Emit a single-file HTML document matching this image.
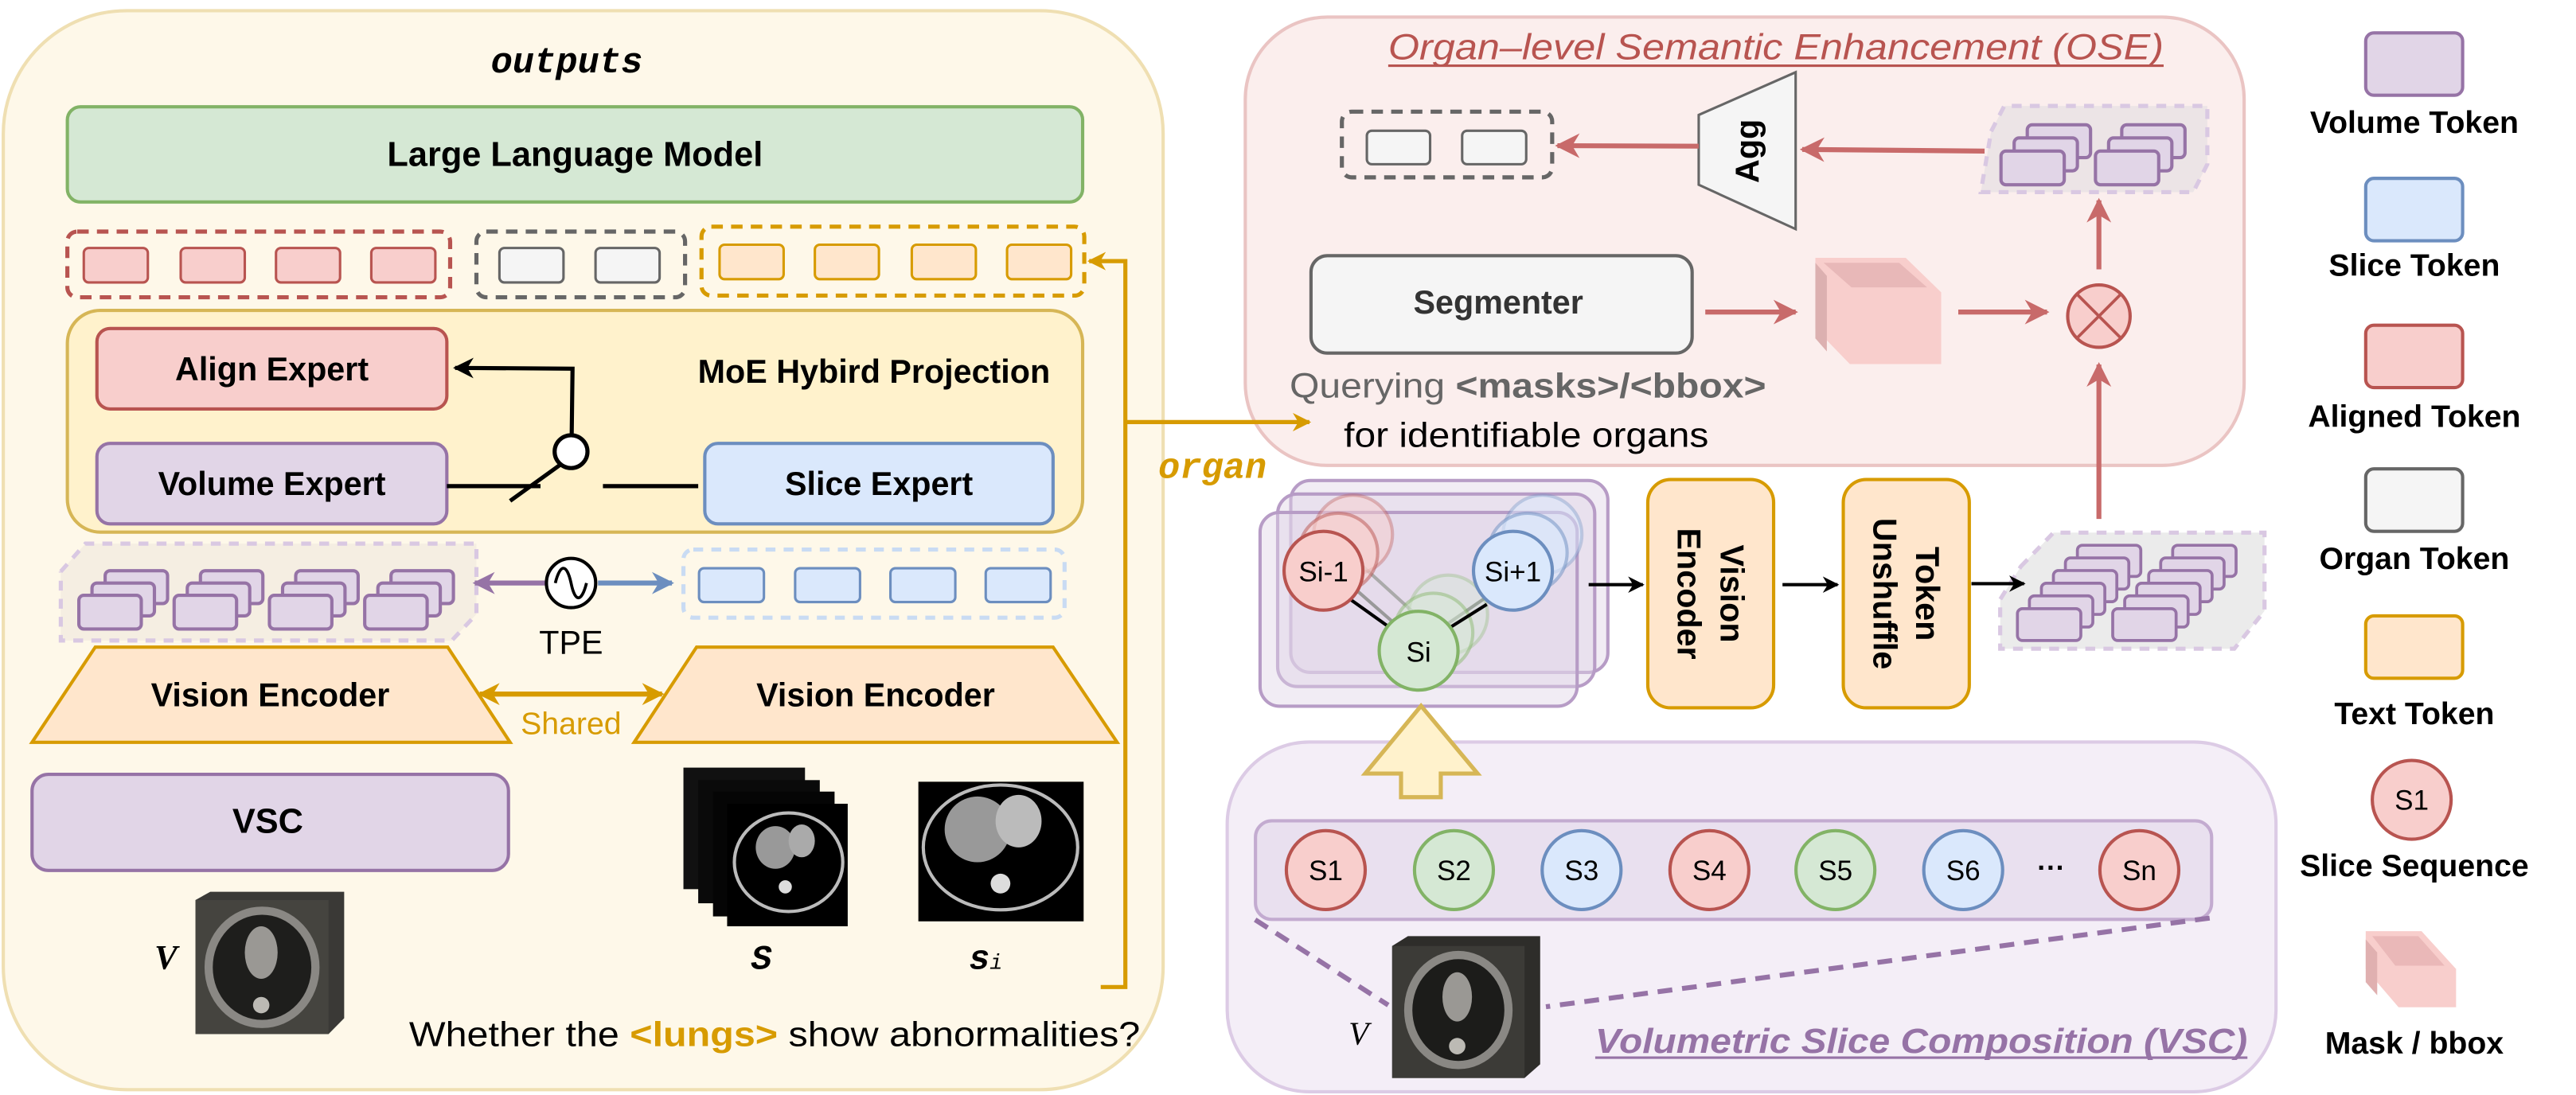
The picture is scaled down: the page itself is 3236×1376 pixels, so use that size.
<!DOCTYPE html>
<html><head><meta charset="utf-8"><style>
html,body{margin:0;padding:0;background:#fff;}
svg{display:block;font-family:"Liberation Sans",sans-serif;}
.mono{font-family:"Liberation Mono",monospace;}
.serif{font-family:"Liberation Serif",serif;}
</style></head><body>
<svg width="3236" height="1376" viewBox="0 0 1568 666.74" xmlns="http://www.w3.org/2000/svg">
<defs>
<marker id="ab" viewBox="0 0 10 10" refX="9" refY="5" markerWidth="5" markerHeight="5" orient="auto"><path d="M0,0 L10,5 L0,10 L3,5 z" fill="#000"/></marker>
<marker id="ar" viewBox="0 0 10 10" refX="9" refY="5" markerWidth="5" markerHeight="6" orient="auto"><path d="M0,0 L10,5 L0,10 L3,5 z" fill="#c86a6a"/></marker>
<marker id="ao" viewBox="0 0 10 10" refX="9" refY="5" markerWidth="4.5" markerHeight="5" orient="auto"><path d="M0,0 L10,5 L0,10 L3,5 z" fill="#d79b00"/></marker>
<marker id="ap" viewBox="0 0 10 10" refX="9" refY="5" markerWidth="4.5" markerHeight="5" orient="auto"><path d="M0,0 L10,5 L0,10 L3,5 z" fill="#9673a6"/></marker>
<marker id="abl" viewBox="0 0 10 10" refX="9" refY="5" markerWidth="4.5" markerHeight="5" orient="auto"><path d="M0,0 L10,5 L0,10 L3,5 z" fill="#6c8ebf"/></marker>
</defs>

<!-- LEFT PANEL -->
<rect x="2" y="6.5" width="706" height="657" rx="75" fill="#fef8e9" stroke="#efdfb2" stroke-width="2"/>
<text x="345" y="44" class="mono" font-weight="bold" font-style="italic" font-size="22" text-anchor="middle">outputs</text>
<rect x="41" y="65" width="618" height="58" rx="8" fill="#d5e8d4" stroke="#82b366" stroke-width="2"/>
<text x="350" y="101" font-weight="bold" font-size="21" text-anchor="middle">Large Language Model</text>

<rect x="41" y="141" width="233" height="40" rx="6" fill="none" stroke="#b85450" stroke-width="2.5" stroke-dasharray="7 5"/>
<g fill="#f8cecc" stroke="#b85450" stroke-width="1.5">
<rect x="51" y="151" width="39" height="21" rx="3"/><rect x="110" y="151" width="39" height="21" rx="3"/><rect x="168" y="151" width="39" height="21" rx="3"/><rect x="226" y="151" width="39" height="21" rx="3"/></g>
<rect x="290" y="141" width="127" height="40" rx="6" fill="none" stroke="#666" stroke-width="2.5" stroke-dasharray="7 5"/>
<g fill="#f5f5f5" stroke="#666" stroke-width="1.5"><rect x="304" y="151" width="39" height="21" rx="3"/><rect x="362.5" y="151" width="39" height="21" rx="3"/></g>
<rect x="427" y="138" width="233" height="42" rx="6" fill="none" stroke="#d79b00" stroke-width="2.5" stroke-dasharray="7 5"/>
<g fill="#ffe6cc" stroke="#d79b00" stroke-width="1.5"><rect x="438" y="149" width="39" height="21" rx="3"/><rect x="496" y="149" width="39" height="21" rx="3"/><rect x="555" y="149" width="39" height="21" rx="3"/><rect x="613" y="149" width="39" height="21" rx="3"/></g>

<!-- orange connector -->
<polyline points="670,601 685,601 685,159 663,159" fill="none" stroke="#d79b00" stroke-width="2.5" marker-end="url(#ao)"/>

<!-- MoE -->
<rect x="41" y="189" width="618" height="135" rx="20" fill="#fff2cc" stroke="#d6b656" stroke-width="2"/>
<rect x="59" y="200" width="213" height="49" rx="8" fill="#f8cecc" stroke="#b85450" stroke-width="2"/>
<text x="165.5" y="231.5" font-weight="bold" font-size="20" text-anchor="middle">Align Expert</text>
<rect x="59" y="270" width="213" height="49" rx="8" fill="#e1d5e7" stroke="#9673a6" stroke-width="2"/>
<text x="165.5" y="301.5" font-weight="bold" font-size="20" text-anchor="middle">Volume Expert</text>
<rect x="429" y="270" width="212" height="49" rx="8" fill="#dae8fc" stroke="#6c8ebf" stroke-width="2"/>
<text x="535" y="301.5" font-weight="bold" font-size="20" text-anchor="middle">Slice Expert</text>
<text x="532" y="233" font-weight="bold" font-size="20" text-anchor="middle">MoE Hybird Projection</text>
<polyline points="348,264 348.5,224.5 277,224" fill="none" stroke="#000" stroke-width="2.5" marker-end="url(#ab)"/>
<circle cx="347.6" cy="275" r="10" fill="#fff" stroke="#000" stroke-width="2.5"/>
<line x1="341" y1="283" x2="310.5" y2="305" stroke="#000" stroke-width="2.5"/>
<line x1="272" y1="296" x2="329" y2="296" stroke="#000" stroke-width="2.5"/>
<line x1="367" y1="296" x2="425" y2="296" stroke="#000" stroke-width="2.5"/>

<!-- volume token stack left -->
<polygon points="52,331 290,331 290,374 275,390 37,390 37,348" fill="#f3ebe0" fill-opacity="0.8" stroke="none"/>
<polyline points="37,348 52,331 290,331 290,374 275,390 37,390 37,348" fill="none" stroke="#d9c8e2" stroke-width="2.5" stroke-dasharray="6 5"/>
<g fill="#e1d5e7" stroke="#9673a6" stroke-width="2">
<rect x="64" y="347.5" width="38" height="20" rx="3"/><rect x="122" y="347.5" width="38" height="20" rx="3"/><rect x="180" y="347.5" width="38" height="20" rx="3"/><rect x="238" y="347.5" width="38" height="20" rx="3"/>
<rect x="56" y="355" width="38" height="20" rx="3"/><rect x="114" y="355" width="38" height="20" rx="3"/><rect x="172" y="355" width="38" height="20" rx="3"/><rect x="230" y="355" width="38" height="20" rx="3"/>
<rect x="48" y="362.5" width="38" height="20.5" rx="3"/><rect x="106" y="362.5" width="38" height="20.5" rx="3"/><rect x="164" y="362.5" width="38" height="20.5" rx="3"/><rect x="222" y="362.5" width="38" height="20.5" rx="3"/>
</g>
<line x1="332" y1="355" x2="289" y2="355" stroke="#9673a6" stroke-width="3" marker-end="url(#ap)"/>
<line x1="364" y1="355" x2="409" y2="355" stroke="#6c8ebf" stroke-width="3" marker-end="url(#abl)"/>
<circle cx="347.6" cy="355" r="15" fill="#fff" stroke="#000" stroke-width="2"/>
<path d="M338,355 C341,343 345,343 347.6,355 C350,367 354,367 357,355" fill="none" stroke="#000" stroke-width="1.8"/>
<text x="347.6" y="398" font-size="20" text-anchor="middle">TPE</text>
<rect x="416" y="334.6" width="232" height="41.5" rx="6" fill="none" stroke="#c9dbf3" stroke-width="2.5" stroke-dasharray="6 5"/>
<g fill="#dae8fc" stroke="#6c8ebf" stroke-width="1.5"><rect x="425.5" y="346" width="39.5" height="20.6" rx="3"/><rect x="484" y="346" width="39.5" height="20.6" rx="3"/><rect x="542" y="346" width="39.5" height="20.6" rx="3"/><rect x="600" y="346" width="39.5" height="20.6" rx="3"/></g>

<!-- Vision encoders -->
<polygon points="58,394 272.5,394 310.5,452 19.5,452" fill="#ffe6cc" stroke="#d79b00" stroke-width="2"/>
<text x="164.5" y="430" font-weight="bold" font-size="20" text-anchor="middle">Vision Encoder</text>
<polygon points="424,394 641,394 680,452 386,452" fill="#ffe6cc" stroke="#d79b00" stroke-width="2"/>
<text x="533" y="430" font-weight="bold" font-size="20" text-anchor="middle">Vision Encoder</text>
<line x1="300" y1="422.6" x2="403" y2="422.6" stroke="#d79b00" stroke-width="3" marker-end="url(#ao)"/>
<line x1="395" y1="422.6" x2="292" y2="422.6" stroke="#d79b00" stroke-width="3" marker-end="url(#ao)"/>
<text x="347.6" y="447" font-size="19" fill="#d79b00" text-anchor="middle">Shared</text>

<rect x="19.5" y="471.5" width="290" height="58.5" rx="10" fill="#e1d5e7" stroke="#9673a6" stroke-width="2"/>
<text x="163" y="507" font-weight="bold" font-size="21" text-anchor="middle">VSC</text>

<!-- CT cube left -->
<g>
<polygon points="119,548 128,543 209.5,543 209.5,620 200,629.6 119,629.6" fill="#3a3936"/>
<rect x="119" y="548" width="81" height="81.6" fill="#45443f"/>
<ellipse cx="159.5" cy="589" rx="35" ry="37" fill="#8a8884"/>
<ellipse cx="159.5" cy="589" rx="30" ry="32" fill="#1e1e1c"/>
<ellipse cx="159" cy="580" rx="10" ry="16" fill="#9a9894"/>
<circle cx="159" cy="612" r="5" fill="#bcbab4"/>
</g>
<text x="101" y="590" class="serif" font-weight="bold" font-style="italic" font-size="21" text-anchor="middle">V</text>

<!-- S stack -->
<g>
<rect x="416" y="467.4" width="74" height="74" fill="#111"/>
<rect x="425" y="475" width="74" height="75" fill="#0a0a0a"/>
<rect x="434" y="482" width="74" height="76" fill="#050505"/>
<rect x="442.6" y="489.4" width="73.4" height="74.6" fill="#000"/>
<ellipse cx="480" cy="525" rx="33" ry="30" fill="none" stroke="#bbb" stroke-width="2"/>
<ellipse cx="472" cy="516" rx="12" ry="13" fill="#999"/>
<ellipse cx="488" cy="512" rx="8" ry="10" fill="#aaa"/>
<circle cx="478" cy="540" r="4" fill="#ddd"/>
</g>
<g>
<rect x="559" y="476" width="100.6" height="85" fill="#000"/>
<ellipse cx="609" cy="516" rx="47" ry="38" fill="none" stroke="#bbb" stroke-width="2"/>
<ellipse cx="595" cy="505" rx="20" ry="20" fill="#999"/>
<ellipse cx="620" cy="500" rx="14" ry="16" fill="#bbb"/>
<circle cx="609" cy="538" r="6" fill="#ddd"/>
</g>
<text x="463.5" y="590" class="mono" font-weight="bold" font-style="italic" font-size="21" text-anchor="middle">S</text>
<text x="600" y="590" class="mono" font-weight="bold" font-style="italic" font-size="21" text-anchor="middle">s<tspan font-size="13" font-weight="normal">i</tspan></text>

<text x="249" y="637" font-size="21" textLength="445" lengthAdjust="spacingAndGlyphs">Whether the <tspan fill="#d79b00" font-weight="bold">&lt;lungs&gt;</tspan> show abnormalities?</text>

<!-- OSE PANEL -->
<rect x="758" y="10.4" width="608" height="273" rx="50" fill="#fbeeed" stroke="#eac4c3" stroke-width="2"/>
<text x="845" y="36" font-size="22" font-style="italic" fill="#b85450" textLength="472" lengthAdjust="spacingAndGlyphs">Organ–level Semantic Enhancement (OSE)</text>
<line x1="845" y1="40" x2="1317" y2="40" stroke="#b85450" stroke-width="1.5"/>
<rect x="816.8" y="68" width="128" height="40" rx="6" fill="none" stroke="#666" stroke-width="2.5" stroke-dasharray="7 5"/>
<g fill="#f5f5f5" stroke="#666" stroke-width="1.5"><rect x="832" y="79.6" width="38.5" height="20.4" rx="3"/><rect x="890" y="79.6" width="39" height="20.4" rx="3"/></g>
<polygon points="1034,70 1093,44 1093,139.5 1034,112.5" fill="#f5f5f5" stroke="#666" stroke-width="1.5"/>
<text transform="translate(1063.5,92) rotate(-90)" x="0" y="7" font-weight="bold" font-size="20" text-anchor="middle">Agg</text>
<line x1="1034" y1="89" x2="948" y2="88.7" stroke="#c86a6a" stroke-width="3" marker-end="url(#ar)"/>
<line x1="1208" y1="92" x2="1097" y2="91" stroke="#c86a6a" stroke-width="3" marker-end="url(#ar)"/>
<!-- OSE stack -->
<polygon points="1212,80 1220,64.5 1343.6,64.5 1343.6,100 1335,117 1205.7,117" fill="#ece4e6" stroke="#d9c8e2" stroke-width="2.5" stroke-dasharray="6 5"/>
<g fill="#e1d5e7" stroke="#9673a6" stroke-width="2">
<rect x="1234" y="76" width="38.5" height="20" rx="3"/><rect x="1291.5" y="76" width="38.5" height="20" rx="3"/>
<rect x="1226" y="84" width="38.5" height="20" rx="3"/><rect x="1283.5" y="84" width="38.5" height="20" rx="3"/>
<rect x="1218" y="92" width="38.5" height="20.5" rx="3"/><rect x="1275.5" y="92" width="38.5" height="20.5" rx="3"/>
</g>
<rect x="798" y="155.7" width="232" height="59.3" rx="10" fill="#f5f5f5" stroke="#666" stroke-width="2"/>
<text x="912" y="191" font-weight="bold" font-size="20" fill="#333" text-anchor="middle">Segmenter</text>
<line x1="1038" y1="190" x2="1093" y2="190" stroke="#c86a6a" stroke-width="3" marker-end="url(#ar)"/>
<g>
<polygon points="1105,157 1160,157 1181.6,178 1181.6,221.7 1126,221.7 1105,200" fill="#f8cecc"/>
<polygon points="1110,160 1156,160 1173,175 1127,175" fill="#e8b8b8"/>
<polygon points="1105,160 1112,168 1112,214 1105,206" fill="#dcb0b0"/>
</g>
<line x1="1192" y1="190" x2="1246" y2="190" stroke="#c86a6a" stroke-width="3" marker-end="url(#ar)"/>
<circle cx="1277.6" cy="192.5" r="19" fill="#f8cecc" stroke="#b85450" stroke-width="2"/>
<line x1="1264.2" y1="179.1" x2="1291" y2="205.9" stroke="#b85450" stroke-width="1.8"/>
<line x1="1291" y1="179.1" x2="1264.2" y2="205.9" stroke="#b85450" stroke-width="1.8"/>
<line x1="1277.6" y1="164" x2="1277.6" y2="122" stroke="#c86a6a" stroke-width="3" marker-end="url(#ar)"/>
<line x1="1277.6" y1="316" x2="1277.6" y2="222" stroke="#c86a6a" stroke-width="3" marker-end="url(#ar)"/>
<text x="785" y="242" font-size="21" fill="#666" textLength="290" lengthAdjust="spacingAndGlyphs">Querying <tspan font-weight="bold">&lt;masks&gt;/&lt;bbox&gt;</tspan></text>
<text x="818" y="272" font-size="21" textLength="222" lengthAdjust="spacingAndGlyphs">for identifiable organs</text>

<!-- orange branch into OSE (drawn on top) -->
<line x1="685" y1="257" x2="797" y2="257" stroke="#d79b00" stroke-width="2.5" marker-end="url(#ao)"/>
<text x="738" y="291" class="mono" font-weight="bold" font-style="italic" font-size="22" fill="#d79b00" text-anchor="middle">organ</text>

<!-- slice stack frames -->
<g fill="#e1d5e7" fill-opacity="0.45" stroke="#b79cc6" stroke-width="2">
<rect x="785.7" y="292.6" width="193" height="116.8" rx="12"/>
<rect x="777.7" y="300.8" width="193" height="117.2" rx="12"/>
<rect x="767" y="312" width="193" height="118" rx="12"/>
</g>
<g stroke-width="2">
<line x1="815" y1="350" x2="855" y2="385" stroke="#999"/>
<line x1="822" y1="338" x2="866" y2="378" stroke="#aaa"/>
<line x1="910" y1="360" x2="878" y2="382" stroke="#777"/>
<circle cx="823.6" cy="325.5" r="24" fill="#f8cecc" fill-opacity="0.5" stroke="#b85450" stroke-opacity="0.35"/>
<circle cx="814.6" cy="336.5" r="24" fill="#f8cecc" fill-opacity="0.6" stroke="#b85450" stroke-opacity="0.5"/>
<circle cx="938.9" cy="325.5" r="24" fill="#dae8fc" fill-opacity="0.5" stroke="#6c8ebf" stroke-opacity="0.35"/>
<circle cx="929.9" cy="336.5" r="24" fill="#dae8fc" fill-opacity="0.6" stroke="#6c8ebf" stroke-opacity="0.5"/>
<circle cx="881.5" cy="374.2" r="24" fill="#d5e8d4" fill-opacity="0.4" stroke="#82b366" stroke-opacity="0.3"/>
<circle cx="872.5" cy="385.2" r="24" fill="#d5e8d4" fill-opacity="0.5" stroke="#82b366" stroke-opacity="0.45"/>
<line x1="822" y1="365" x2="850" y2="385" stroke="#000"/>
<line x1="905" y1="368" x2="878" y2="385" stroke="#000"/>
<circle cx="805.6" cy="347.5" r="24" fill="#f8cecc" stroke="#b85450"/>
<circle cx="920.9" cy="347.5" r="24" fill="#dae8fc" stroke="#6c8ebf"/>
<circle cx="863.5" cy="396.2" r="24" fill="#d5e8d4" stroke="#82b366"/>
</g>
<text x="805.6" y="354" font-size="17" text-anchor="middle">Si-1</text>
<text x="920.9" y="354" font-size="17" text-anchor="middle">Si+1</text>
<text x="863.5" y="403" font-size="17" text-anchor="middle">Si</text>
<line x1="967" y1="356" x2="1000" y2="356" stroke="#000" stroke-width="2" marker-end="url(#ab)"/>
<rect x="1003" y="292" width="76.6" height="139" rx="14" fill="#ffe6cc" stroke="#d79b00" stroke-width="2"/>
<text transform="translate(1041.3,361.5) rotate(90)" font-weight="bold" font-size="20" text-anchor="middle"><tspan x="0" y="-6">Vision</tspan><tspan x="0" y="20">Encoder</tspan></text>
<line x1="1085" y1="356" x2="1118.5" y2="356" stroke="#000" stroke-width="2" marker-end="url(#ab)"/>
<rect x="1122" y="292" width="76.7" height="139" rx="14" fill="#ffe6cc" stroke="#d79b00" stroke-width="2"/>
<text transform="translate(1160.4,361.5) rotate(90)" font-weight="bold" font-size="20" text-anchor="middle"><tspan x="0" y="-6">Token</tspan><tspan x="0" y="20">Unshuffle</tspan></text>
<!-- bottom right stack -->
<polygon points="1230,345 1250,324.3 1378.4,324.3 1378.4,372 1360,395 1217.5,395 1217.5,365" fill="#ebebeb" stroke="#d9c8e2" stroke-width="2.5" stroke-dasharray="6 5"/>
<g fill="#e1d5e7" stroke="#9673a6" stroke-width="1.8">
<rect x="1264.5" y="332" width="38.6" height="19" rx="3"/><rect x="1322.5" y="332" width="38.6" height="19" rx="3"/>
<rect x="1257.2" y="339.7" width="38.6" height="19" rx="3"/><rect x="1315.2" y="339.7" width="38.6" height="19" rx="3"/>
<rect x="1249.9" y="347.4" width="38.6" height="19" rx="3"/><rect x="1307.9" y="347.4" width="38.6" height="19" rx="3"/>
<rect x="1242.6" y="355.1" width="38.6" height="19" rx="3"/><rect x="1300.6" y="355.1" width="38.6" height="19" rx="3"/>
<rect x="1235.3" y="362.8" width="38.6" height="19" rx="3"/><rect x="1293.3" y="362.8" width="38.6" height="19" rx="3"/>
<rect x="1228" y="370.6" width="38.6" height="19.4" rx="3"/><rect x="1286" y="370.6" width="38.6" height="19.4" rx="3"/>
</g>
<line x1="1200" y1="355.4" x2="1232" y2="355.4" stroke="#000" stroke-width="2" marker-end="url(#ab)"/>

<!-- VSC panel -->
<rect x="747" y="451.8" width="638.4" height="213" rx="50" fill="#f4eef7" stroke="#dccbe5" stroke-width="2"/>
<polygon points="865,429.8 899.4,471 877,471 877,485.4 852.8,485.4 852.8,471 831,471" fill="#fff2cc" stroke="#d6b656" stroke-width="2.5"/>
<rect x="764.2" y="499.8" width="582" height="60" rx="10" fill="#e9e0ef" stroke="#c3abd0" stroke-width="2"/>
<g stroke-width="2">
<circle cx="807" cy="529.8" r="24" fill="#f8cecc" stroke="#b85450"/>
<circle cx="885" cy="529.8" r="24" fill="#d5e8d4" stroke="#82b366"/>
<circle cx="962.7" cy="529.8" r="24" fill="#dae8fc" stroke="#6c8ebf"/>
<circle cx="1040.5" cy="529.8" r="24" fill="#f8cecc" stroke="#b85450"/>
<circle cx="1117.2" cy="529.8" r="24" fill="#d5e8d4" stroke="#82b366"/>
<circle cx="1195" cy="529.8" r="24" fill="#dae8fc" stroke="#6c8ebf"/>
<circle cx="1302.2" cy="529.8" r="24" fill="#f8cecc" stroke="#b85450"/>
</g>
<g font-size="17" text-anchor="middle">
<text x="807" y="536">S1</text><text x="885" y="536">S2</text><text x="962.7" y="536">S3</text><text x="1040.5" y="536">S4</text><text x="1117.2" y="536">S5</text><text x="1195" y="536">S6</text><text x="1302.2" y="536">Sn</text>
<text x="1248.6" y="534" font-weight="bold">···</text>
</g>
<line x1="764" y1="560" x2="845" y2="612" stroke="#9673a6" stroke-width="3" stroke-dasharray="9 6"/>
<line x1="1345" y1="559" x2="941" y2="613" stroke="#9673a6" stroke-width="3" stroke-dasharray="9 6"/>
<g>
<polygon points="847.4,576 857,570 937.5,570 937.5,648 928,656.4 847.4,656.4" fill="#2e2d2a"/>
<rect x="847.4" y="576" width="80.6" height="80.4" fill="#3c3b37"/>
<ellipse cx="887.7" cy="615" rx="33" ry="36" fill="#8a8884"/>
<ellipse cx="887.7" cy="615" rx="28" ry="31" fill="#1c1c1a"/>
<ellipse cx="887" cy="607" rx="9" ry="15" fill="#9a9894"/>
<circle cx="887" cy="637" r="5" fill="#bcbab4"/>
</g>
<text x="827" y="636" class="serif" font-style="italic" font-size="20" text-anchor="middle">V</text>
<text x="971" y="641" font-size="21" font-weight="bold" font-style="italic" fill="#9673a6" textLength="397" lengthAdjust="spacingAndGlyphs">Volumetric Slice Composition (VSC)</text>
<line x1="971" y1="644" x2="1368" y2="644" stroke="#9673a6" stroke-width="1.5"/>

<!-- LEGEND -->
<rect x="1440" y="20" width="59" height="38" rx="5" fill="#e1d5e7" stroke="#9673a6" stroke-width="2"/>
<text x="1469.6" y="81" font-weight="bold" font-size="19" text-anchor="middle">Volume Token</text>
<rect x="1440" y="108.6" width="59" height="38" rx="5" fill="#dae8fc" stroke="#6c8ebf" stroke-width="2"/>
<text x="1469.6" y="168" font-weight="bold" font-size="19" text-anchor="middle">Slice Token</text>
<rect x="1440" y="198" width="59" height="38" rx="5" fill="#f8cecc" stroke="#b85450" stroke-width="2"/>
<text x="1469.6" y="260" font-weight="bold" font-size="19" text-anchor="middle">Aligned Token</text>
<rect x="1440" y="285.5" width="59" height="38" rx="5" fill="#f5f5f5" stroke="#666" stroke-width="2"/>
<text x="1469.6" y="346.5" font-weight="bold" font-size="19" text-anchor="middle">Organ Token</text>
<rect x="1440" y="375" width="59" height="38" rx="5" fill="#ffe6cc" stroke="#d79b00" stroke-width="2"/>
<text x="1469.6" y="441" font-weight="bold" font-size="19" text-anchor="middle">Text Token</text>
<circle cx="1468" cy="487" r="24" fill="#f8cecc" stroke="#b85450" stroke-width="2"/>
<text x="1468" y="493" font-size="17" text-anchor="middle">S1</text>
<text x="1469.6" y="533.5" font-weight="bold" font-size="19" text-anchor="middle">Slice Sequence</text>
<g>
<polygon points="1440,567 1474,567 1495,590 1495,613.3 1460,613.3 1440,590" fill="#f8cecc"/>
<polygon points="1444,570 1472,570 1488,588 1458,588" fill="#eab8b8"/>
<polygon points="1440,572 1447,580 1447,606 1440,598" fill="#e0b0b0"/>
</g>
<text x="1469.6" y="641.5" font-weight="bold" font-size="19" text-anchor="middle">Mask / bbox</text>
</svg>
</body></html>
